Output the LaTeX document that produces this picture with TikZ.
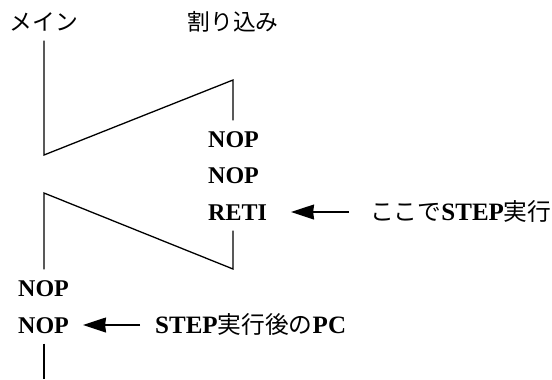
\documentclass[tikz,border=0pt]{standalone}
\usepackage{fontspec}
\setmainfont{Liberation Serif}
\newfontfamily\jp[Scale=0.95]{Noto Sans CJK JP}
\usetikzlibrary{arrows.meta}
\usetikzlibrary{positioning}
\newcommand{\ja}[1]{{\jp\mdseries #1}}
\tikzstyle{lane} = [inner xsep=0pt, inner ysep=10bp, text height=17bp, text depth=0pt, font=\fontsize{24bp}{28bp}\selectfont\jp]
\tikzstyle{instr} = [anchor=west, inner xsep=0pt, inner ysep=10bp, text height=17bp, text depth=0pt, font=\fontsize{24bp}{28bp}\selectfont\bfseries]
\tikzstyle{note} = [instr, font=\fontsize{25bp}{29bp}\selectfont\bfseries]
\tikzstyle{flow} = [line width=1.3bp]
\tikzstyle{pointer} = [line width=1.3bp, -{Stealth[length=23bp, width=15bp, inset=1bp]}]

\begin{document}
\begin{tikzpicture}[x=1bp, y=-1bp]
 \useasboundingbox (0,0) rectangle (552,379);
 \node (main) [lane] at (44,22) {メイン};
 \node (intr) [lane] at (233,22) {割り込み};
 \node (nop1) [instr] at (208,139) {NOP};
 \node (nop2) [instr] at (208,175) {NOP};
 \node (reti) [instr] at (208,212) {RETI};
 \node (nop3) [instr] at (18,288) {NOP};
 \node (nop4) [instr] at (18,325) {NOP};
 \node (here) [note] at (370,212) {\ja{ここで}STEP\ja{実行}};
 \node (after) [note] at (155,325) {STEP\ja{実行後の}PC};

 \coordinate (call) at (44,155);
 \coordinate (entry) at (233,80);
 \coordinate (exit) at (233,269);
 \coordinate (back) at (44,193);
 \coordinate (tail) at (44,379);

 \draw[flow] (main) -- (call) -- (entry) -- (entry |- nop1.north);
 \draw[flow] (reti.south -| exit) -- (exit) -- (back) -- (back |- nop3.north);
 \draw[flow] (nop4.south -| tail) -- (tail);
 \draw[pointer, shorten <=21bp, shorten >=24bp] (here) -- (reti);
 \draw[pointer, shorten <=15bp, shorten >=14bp] (after) -- (nop4);
\end{tikzpicture}
\end{document}
